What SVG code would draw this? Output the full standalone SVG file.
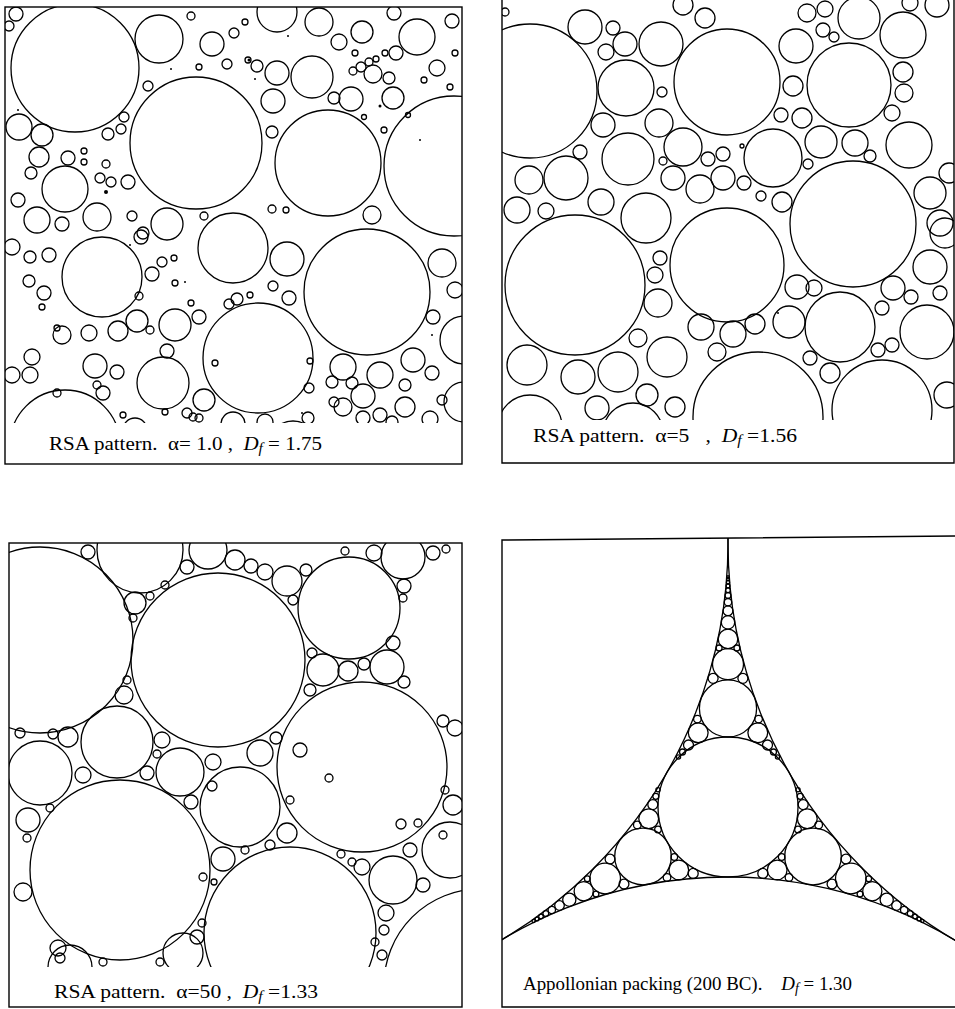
<svg xmlns="http://www.w3.org/2000/svg" width="955" height="1009" viewBox="0 0 955 1009">
<style>
circle{fill:none;stroke:#000;stroke-width:1.3}
.f{fill:none;stroke:#000;stroke-width:1.4}
.d{fill:#000;stroke:none}
text{font-family:"Liberation Serif","Times New Roman",serif;font-size:19px;fill:#000}
.i{font-style:italic}
.s{font-style:italic;font-size:14px}
</style>
<defs>
<clipPath id="k1"><rect x="5" y="7" width="457" height="416"/></clipPath>
<clipPath id="k2"><rect x="502" y="0" width="452" height="420"/></clipPath>
<clipPath id="k3"><rect x="9" y="543" width="453" height="424"/></clipPath>
<clipPath id="k4"><rect x="502" y="538" width="453" height="469"/></clipPath>
</defs>
<rect width="955" height="1009" fill="#fff"/>

<g id="panel1">
<rect class="f" x="5" y="7" width="457" height="457"/>
<g clip-path="url(#k1)">
<circle cx="75" cy="68" r="64"/><circle cx="196" cy="143" r="66"/><circle cx="328" cy="163" r="53"/><circle cx="454" cy="166" r="70"/>
<circle cx="159" cy="39" r="24"/><circle cx="277" cy="12" r="20"/><circle cx="319" cy="22" r="14"/><circle cx="417" cy="37" r="18"/>
<circle cx="312" cy="77" r="21"/><circle cx="277" cy="73" r="12"/><circle cx="273" cy="101" r="12"/><circle cx="212" cy="44" r="12"/>
<circle cx="362" cy="32" r="11"/><circle cx="351" cy="99" r="12"/><circle cx="393" cy="98" r="11"/><circle cx="373" cy="74" r="9"/>
<circle cx="437" cy="68" r="8"/><circle cx="452" cy="21" r="7"/><circle cx="339" cy="42" r="8"/><circle cx="396" cy="53" r="7"/>
<circle cx="394" cy="13" r="7"/><circle cx="19" cy="127" r="13"/><circle cx="42" cy="135" r="11"/><circle cx="39" cy="157" r="10"/>
<circle cx="65" cy="189" r="23"/><circle cx="68" cy="158" r="7"/><circle cx="31" cy="173" r="6"/><circle cx="97" cy="217" r="14"/>
<circle cx="37" cy="220" r="13"/><circle cx="62" cy="224" r="7"/><circle cx="18" cy="200" r="7"/><circle cx="16" cy="14" r="7"/>
<circle cx="9" cy="26" r="5"/><circle cx="167" cy="224" r="16"/><circle cx="233" cy="248" r="35"/><circle cx="372" cy="215" r="9"/>
<circle cx="272" cy="132" r="6"/><circle cx="227" cy="64" r="5"/><circle cx="257" cy="66" r="6"/><circle cx="191" cy="16" r="4"/>
<circle cx="234" cy="33" r="5"/><circle cx="199" cy="67" r="3"/><circle cx="389" cy="78" r="6"/><circle cx="334" cy="98" r="6"/>
<circle cx="108" cy="134" r="6"/><circle cx="121" cy="129" r="5"/><circle cx="124" cy="117" r="5"/><circle cx="148" cy="86" r="5"/>
<circle cx="100" cy="178" r="5"/><circle cx="111" cy="182" r="5"/><circle cx="128" cy="182" r="7"/><circle cx="106" cy="164" r="4"/>
<circle cx="84" cy="151" r="3"/><circle cx="84" cy="162" r="3"/><circle cx="132" cy="216" r="5"/><circle cx="204" cy="216" r="4"/>
<circle cx="272" cy="209" r="4"/><circle cx="286" cy="210" r="3"/><circle cx="143" cy="233" r="6"/><circle cx="245" cy="22" r="3"/>
<circle cx="355" cy="53" r="3"/><circle cx="369" cy="62" r="4"/><circle cx="361" cy="67" r="5"/><circle cx="353" cy="71" r="4"/>
<circle cx="376" cy="59" r="3"/><circle cx="385" cy="53" r="3"/><circle cx="424" cy="80" r="3"/><circle cx="455" cy="53" r="3"/>
<circle cx="450" cy="87" r="3"/><circle cx="384" cy="130" r="3"/><circle cx="364" cy="117" r="2.5"/><circle cx="408" cy="115" r="2.5"/>
<circle cx="248" cy="60" r="3"/>
<circle cx="102" cy="277" r="40"/><circle cx="367" cy="292" r="63"/><circle cx="258" cy="358" r="55"/><circle cx="163" cy="383" r="26"/>
<circle cx="65" cy="445" r="55"/><circle cx="287" cy="259" r="17"/><circle cx="175" cy="325" r="16"/><circle cx="152" cy="274" r="7"/>
<circle cx="162" cy="262" r="5"/><circle cx="174" cy="258" r="3"/><circle cx="442" cy="263" r="14"/><circle cx="455" cy="290" r="8"/>
<circle cx="464" cy="340" r="24"/><circle cx="464" cy="402" r="20"/><circle cx="343" cy="367" r="13"/><circle cx="380" cy="375" r="13"/>
<circle cx="413" cy="360" r="12"/><circle cx="363" cy="396" r="12"/><circle cx="405" cy="407" r="10"/><circle cx="432" cy="373" r="7"/>
<circle cx="332" cy="382" r="6"/><circle cx="352" cy="383" r="6"/><circle cx="405" cy="385" r="6"/><circle cx="343" cy="407" r="9"/>
<circle cx="433" cy="317" r="7"/><circle cx="95" cy="366" r="12"/><circle cx="117" cy="372" r="7"/><circle cx="32" cy="357" r="8"/>
<circle cx="30" cy="375" r="8"/><circle cx="12" cy="375" r="8"/><circle cx="62" cy="335" r="9"/><circle cx="89" cy="333" r="8"/>
<circle cx="118" cy="331" r="10"/><circle cx="137" cy="321" r="11"/><circle cx="150" cy="330" r="4"/><circle cx="167" cy="351" r="7"/>
<circle cx="199" cy="317" r="7"/><circle cx="204" cy="400" r="11"/><circle cx="187" cy="413" r="5"/><circle cx="199" cy="418" r="4"/>
<circle cx="44" cy="293" r="7"/><circle cx="29" cy="281" r="6"/><circle cx="49" cy="255" r="7"/><circle cx="30" cy="257" r="6"/>
<circle cx="12" cy="247" r="8"/><circle cx="141" cy="237" r="7"/><circle cx="103" cy="393" r="7"/><circle cx="97" cy="385" r="4"/>
<circle cx="289" cy="298" r="7"/><circle cx="273" cy="286" r="5"/><circle cx="237" cy="299" r="6"/><circle cx="229" cy="304" r="5"/>
<circle cx="250" cy="295" r="3"/><circle cx="309" cy="388" r="5"/><circle cx="380" cy="415" r="7"/><circle cx="430" cy="419" r="8"/>
<circle cx="392" cy="422" r="6"/><circle cx="363" cy="418" r="7"/><circle cx="334" cy="402" r="5"/><circle cx="135" cy="430" r="12"/>
<circle cx="233" cy="424" r="12"/><circle cx="265" cy="422" r="8"/><circle cx="293" cy="446" r="25"/><circle cx="308" cy="418" r="6"/>
<circle cx="193" cy="417" r="4"/><circle cx="57" cy="393" r="4"/><circle cx="139" cy="296" r="4"/><circle cx="191" cy="303" r="3"/>
<circle cx="175" cy="283" r="3"/><circle cx="42" cy="307" r="3"/><circle cx="57" cy="328" r="3"/><circle cx="123" cy="415" r="3"/>
<circle cx="165" cy="412" r="3"/><circle cx="215" cy="363" r="3"/><circle cx="310" cy="361" r="3"/><circle cx="442" cy="400" r="5"/>
<circle class="d" cx="106" cy="192" r="2"/><circle class="d" cx="249" cy="60" r="1.5"/><circle class="d" cx="380" cy="106" r="1.5"/>
<circle class="d" cx="171" cy="69" r="1"/><circle class="d" cx="255" cy="79" r="1"/><circle class="d" cx="288" cy="36" r="1"/>
<circle class="d" cx="420" cy="140" r="1"/><circle class="d" cx="18" cy="110" r="1"/><circle class="d" cx="185" cy="282" r="1"/>
<circle class="d" cx="432" cy="335" r="1"/><circle class="d" cx="302" cy="413" r="1"/><circle class="d" cx="130" cy="245" r="1"/>
</g>
</g>

<g id="panel2">
<path class="f" d="M502,0 V463 H954 V0"/>
<g clip-path="url(#k2)">
<circle cx="530" cy="91" r="67"/><circle cx="727" cy="82" r="53"/><circle cx="849" cy="85" r="42"/><circle cx="626" cy="88" r="28"/>
<circle cx="661" cy="44" r="22"/><circle cx="585" cy="27" r="17"/><circle cx="625" cy="44" r="12"/><circle cx="606" cy="52" r="8"/>
<circle cx="613" cy="28" r="7"/><circle cx="683" cy="5" r="10"/><circle cx="705" cy="18" r="10"/><circle cx="796" cy="46" r="17"/>
<circle cx="793" cy="86" r="10"/><circle cx="807" cy="13" r="9"/><circle cx="825" cy="9" r="8"/><circle cx="859" cy="18" r="21"/>
<circle cx="903" cy="35" r="23"/><circle cx="823" cy="30" r="7"/><circle cx="834" cy="37" r="5"/><circle cx="910" cy="3" r="8"/>
<circle cx="937" cy="5" r="12"/><circle cx="903" cy="72" r="10"/><circle cx="904" cy="93" r="9"/><circle cx="892" cy="113" r="8"/>
<circle cx="909" cy="145" r="23"/><circle cx="930" cy="193" r="16"/><circle cx="949" cy="173" r="10"/><circle cx="940" cy="223" r="13"/>
<circle cx="659" cy="123" r="14"/><circle cx="662" cy="92" r="5"/><circle cx="603" cy="125" r="12"/><circle cx="628" cy="159" r="26"/>
<circle cx="683" cy="147" r="19"/><circle cx="773" cy="158" r="29"/><circle cx="821" cy="142" r="16"/><circle cx="855" cy="143" r="13"/>
<circle cx="802" cy="118" r="10"/><circle cx="781" cy="115" r="7"/><circle cx="870" cy="156" r="6"/><circle cx="808" cy="164" r="5"/>
<circle cx="708" cy="159" r="7"/><circle cx="723" cy="154" r="7"/><circle cx="742" cy="146" r="2"/><circle cx="663" cy="161" r="4"/>
<circle cx="580" cy="152" r="7"/><circle cx="566" cy="178" r="22"/><circle cx="529" cy="180" r="14"/><circle cx="517" cy="210" r="13"/>
<circle cx="546" cy="211" r="8"/><circle cx="601" cy="202" r="13"/><circle cx="646" cy="218" r="25"/><circle cx="673" cy="178" r="12"/>
<circle cx="700" cy="189" r="14"/><circle cx="723" cy="178" r="12"/><circle cx="744" cy="183" r="7"/><circle cx="761" cy="196" r="5"/>
<circle cx="782" cy="202" r="10"/><circle cx="853" cy="224" r="63"/><circle cx="575" cy="285" r="70"/><circle cx="727" cy="265" r="57"/>
<circle cx="945" cy="233" r="15"/><circle cx="930" cy="267" r="17"/><circle cx="940" cy="293" r="7"/><circle cx="893" cy="288" r="12"/>
<circle cx="911" cy="297" r="7"/><circle cx="882" cy="308" r="7"/><circle cx="927" cy="332" r="27"/><circle cx="840" cy="327" r="35"/>
<circle cx="789" cy="322" r="16"/><circle cx="797" cy="287" r="12"/><circle cx="814" cy="288" r="8"/><circle cx="755" cy="324" r="10"/>
<circle cx="733" cy="334" r="13"/><circle cx="717" cy="352" r="9"/><circle cx="701" cy="327" r="13"/><circle cx="658" cy="303" r="14"/>
<circle cx="655" cy="275" r="8"/><circle cx="660" cy="258" r="7"/><circle cx="667" cy="357" r="20"/><circle cx="638" cy="338" r="9"/>
<circle cx="618" cy="372" r="20"/><circle cx="578" cy="377" r="17"/><circle cx="527" cy="365" r="20"/><circle cx="647" cy="395" r="11"/>
<circle cx="597" cy="408" r="12"/><circle cx="675" cy="407" r="10"/><circle cx="530" cy="427" r="32"/><circle cx="633" cy="433" r="30"/>
<circle cx="758" cy="417" r="65"/><circle cx="882" cy="410" r="50"/><circle cx="947" cy="395" r="13"/><circle cx="810" cy="358" r="7"/>
<circle cx="830" cy="373" r="10"/><circle cx="878" cy="350" r="7"/><circle cx="892" cy="345" r="7"/><circle cx="505" cy="12" r="4"/>
<circle class="d" cx="778" cy="313" r="1"/>
</g>
</g>

<g id="panel3">
<rect class="f" x="9" y="543" width="453" height="464"/>
<g clip-path="url(#k3)">
<circle cx="40" cy="640" r="93"/><circle cx="140" cy="550" r="43"/><circle cx="208" cy="550" r="19"/><circle cx="218" cy="660" r="87"/>
<circle cx="349" cy="608" r="51"/><circle cx="403" cy="557" r="22"/><circle cx="362" cy="767" r="85"/><circle cx="120" cy="870" r="90"/>
<circle cx="290" cy="933" r="86"/><circle cx="240" cy="807" r="40"/><circle cx="180" cy="772" r="24"/><circle cx="117" cy="742" r="36"/>
<circle cx="40" cy="773" r="32"/><circle cx="393" cy="880" r="24"/><circle cx="450" cy="850" r="28"/><circle cx="480" cy="985" r="96"/>
<circle cx="453" cy="805" r="10"/><circle cx="287" cy="833" r="10"/><circle cx="223" cy="859" r="12"/><circle cx="191" cy="802" r="7"/>
<circle cx="147" cy="773" r="7"/><circle cx="83" cy="775" r="8"/><circle cx="28" cy="820" r="12"/><circle cx="23" cy="892" r="9"/>
<circle cx="58" cy="948" r="8"/><circle cx="362" cy="867" r="8"/><circle cx="386" cy="913" r="8"/><circle cx="382" cy="955" r="5"/>
<circle cx="260" cy="753" r="13"/><circle cx="213" cy="762" r="8"/><circle cx="197" cy="937" r="7"/><circle cx="183" cy="953" r="20"/>
<circle cx="70" cy="967" r="22"/><circle cx="410" cy="850" r="7"/><circle cx="423" cy="885" r="7"/><circle cx="393" cy="643" r="7"/>
<circle cx="387" cy="667" r="17"/><circle cx="323" cy="670" r="16"/><circle cx="348" cy="671" r="10"/><circle cx="364" cy="664" r="6"/>
<circle cx="404" cy="682" r="6"/><circle cx="312" cy="653" r="5"/><circle cx="310" cy="690" r="6"/><circle cx="88" cy="552" r="7"/>
<circle cx="135" cy="603" r="11"/><circle cx="150" cy="596" r="4"/><circle cx="133" cy="618" r="4"/><circle cx="124" cy="695" r="9"/>
<circle cx="127" cy="680" r="4"/><circle cx="68" cy="737" r="10"/><circle cx="53" cy="734" r="5"/><circle cx="20" cy="733" r="5"/>
<circle cx="235" cy="560" r="10"/><circle cx="251" cy="566" r="7"/><circle cx="265" cy="572" r="8"/><circle cx="287" cy="581" r="15"/>
<circle cx="306" cy="570" r="6"/><circle cx="293" cy="600" r="5"/><circle cx="374" cy="553" r="8"/><circle cx="345" cy="551" r="4"/>
<circle cx="433" cy="553" r="7"/><circle cx="446" cy="549" r="4"/><circle cx="404" cy="586" r="7"/><circle cx="403" cy="598" r="4"/>
<circle cx="443" cy="721" r="6"/><circle cx="455" cy="728" r="8"/><circle cx="276" cy="738" r="6"/><circle cx="162" cy="740" r="8"/>
<circle cx="187" cy="567" r="7"/><circle cx="165" cy="585" r="4"/><circle cx="300" cy="750" r="7"/><circle cx="270" cy="845" r="5"/>
<circle cx="290" cy="800" r="4"/><circle cx="329" cy="778" r="4"/><circle cx="212" cy="786" r="5"/><circle cx="157" cy="754" r="4"/>
<circle cx="50" cy="808" r="4"/><circle cx="27" cy="838" r="4"/><circle cx="202" cy="923" r="4"/><circle cx="203" cy="877" r="4"/>
<circle cx="214" cy="882" r="3"/><circle cx="384" cy="930" r="5"/><circle cx="375" cy="942" r="4"/><circle cx="445" cy="790" r="4"/>
<circle cx="401" cy="824" r="5"/><circle cx="418" cy="823" r="4"/><circle cx="341" cy="854" r="4"/><circle cx="352" cy="862" r="4"/>
<circle cx="60" cy="958" r="5"/><circle cx="103" cy="962" r="4"/><circle cx="160" cy="962" r="4"/><circle cx="245" cy="850" r="4"/>
<circle cx="443" cy="835" r="4"/>
</g>
</g>

<g id="panel4">
<path class="f" d="M955,536 L502,540 V1007 H955"/>
<g clip-path="url(#k4)">
<circle cx="267" cy="543" r="461"/><circle cx="1189" cy="543" r="461"/><circle cx="728" cy="1316" r="439"/><circle cx="728" cy="807" r="70"/>
<circle cx="728" cy="708.4" r="28.6"/><circle cx="728" cy="664.2" r="15.5"/><circle cx="728" cy="638.9" r="9.8"/><circle cx="728" cy="622.4" r="6.7"/>
<circle cx="728" cy="610.8" r="4.9"/><circle cx="728" cy="602.2" r="3.7"/><circle cx="728" cy="595.5" r="2.9"/><circle cx="728" cy="590.2" r="2.4"/>
<circle cx="728" cy="585.9" r="1.9"/><circle cx="728" cy="582.3" r="1.6"/><circle cx="728" cy="579.3" r="1.3"/><circle cx="728" cy="576.7" r="1.1"/>
<circle cx="713.1" cy="678.3" r="5"/><circle cx="742.9" cy="678.3" r="5"/><circle cx="719.1" cy="648" r="3"/><circle cx="736.9" cy="648" r="3"/>
<circle cx="698.2" cy="732.8" r="9.9"/><circle cx="757.8" cy="732.8" r="9.9"/><circle cx="697.4" cy="719.1" r="3.8"/><circle cx="758.6" cy="719.1" r="3.8"/>
<circle cx="688.5" cy="745" r="5"/><circle cx="767.5" cy="745" r="5"/><circle cx="682.5" cy="752" r="3"/><circle cx="773.5" cy="752" r="3"/>
<circle cx="678.5" cy="757" r="2.1"/><circle cx="777.5" cy="757" r="2.1"/>
<circle cx="643" cy="856.5" r="28.3"/><circle cx="813" cy="856.5" r="28.3"/><circle cx="678.8" cy="869.9" r="9.85"/><circle cx="777.2" cy="869.9" r="9.85"/>
<circle cx="605.2" cy="878.5" r="15.3"/><circle cx="850.8" cy="878.5" r="15.3"/><circle cx="583.7" cy="891.2" r="9.6"/><circle cx="872.3" cy="891.2" r="9.6"/>
<circle cx="569.3" cy="899.7" r="6.6"/><circle cx="886.7" cy="899.7" r="6.6"/><circle cx="559.5" cy="905.5" r="4.8"/><circle cx="896.5" cy="905.5" r="4.8"/>
<circle cx="551.8" cy="910" r="3.7"/><circle cx="904.2" cy="910" r="3.7"/><circle cx="545.8" cy="913.6" r="2.9"/><circle cx="910.2" cy="913.6" r="2.9"/>
<circle cx="541" cy="916.5" r="2.3"/><circle cx="915" cy="916.5" r="2.3"/><circle cx="537" cy="919" r="1.9"/><circle cx="919" cy="919" r="1.9"/>
<circle cx="533.6" cy="921" r="1.6"/><circle cx="922.4" cy="921" r="1.6"/>
<circle cx="648.7" cy="818.8" r="9.9"/><circle cx="807.3" cy="818.8" r="9.9"/><circle cx="652.8" cy="804.6" r="5"/><circle cx="803.2" cy="804.6" r="5"/>
<circle cx="655.8" cy="796.3" r="3"/><circle cx="800.2" cy="796.3" r="3"/><circle cx="658" cy="789.8" r="2.1"/><circle cx="798" cy="789.8" r="2.1"/>
<circle cx="693.2" cy="873.4" r="5"/><circle cx="762.8" cy="873.4" r="5"/><circle cx="667" cy="877.5" r="3.8"/><circle cx="789" cy="877.5" r="3.8"/>
<circle cx="674.3" cy="857" r="3.3"/><circle cx="781.7" cy="857" r="3.3"/><circle cx="637.3" cy="825" r="3.8"/><circle cx="818.7" cy="825" r="3.8"/>
<circle cx="610" cy="859" r="4.9"/><circle cx="846" cy="859" r="4.9"/><circle cx="624" cy="884" r="4.9"/><circle cx="832" cy="884" r="4.9"/>
<circle cx="596" cy="894" r="2.9"/><circle cx="860" cy="894" r="2.9"/><circle cx="587.3" cy="878.8" r="2.9"/><circle cx="868.7" cy="878.8" r="2.9"/>
<circle cx="658" cy="829.5" r="3.3"/><circle cx="798" cy="829.5" r="3.3"/>
</g>
</g>

<g id="captions">
<text x="49" y="450" textLength="273" lengthAdjust="spacingAndGlyphs" xml:space="preserve">RSA pattern.  α= 1.0 ,  <tspan class="i">D</tspan><tspan class="s" dy="3">f</tspan><tspan dy="-3"> = 1.75</tspan></text>
<text x="533" y="442" textLength="264" lengthAdjust="spacingAndGlyphs" xml:space="preserve">RSA pattern.  α=5   ,  <tspan class="i">D</tspan><tspan class="s" dy="3">f</tspan><tspan dy="-3"> =1.56</tspan></text>
<text x="54" y="998" textLength="264" lengthAdjust="spacingAndGlyphs" xml:space="preserve">RSA pattern.  α=50 ,  <tspan class="i">D</tspan><tspan class="s" dy="3">f</tspan><tspan dy="-3"> =1.33</tspan></text>
<text x="523" y="990" textLength="329" lengthAdjust="spacingAndGlyphs" xml:space="preserve">Appollonian packing (200 BC).    <tspan class="i">D</tspan><tspan class="s" dy="3">f</tspan><tspan dy="-3"> = 1.30</tspan></text>
</g>
</svg>
